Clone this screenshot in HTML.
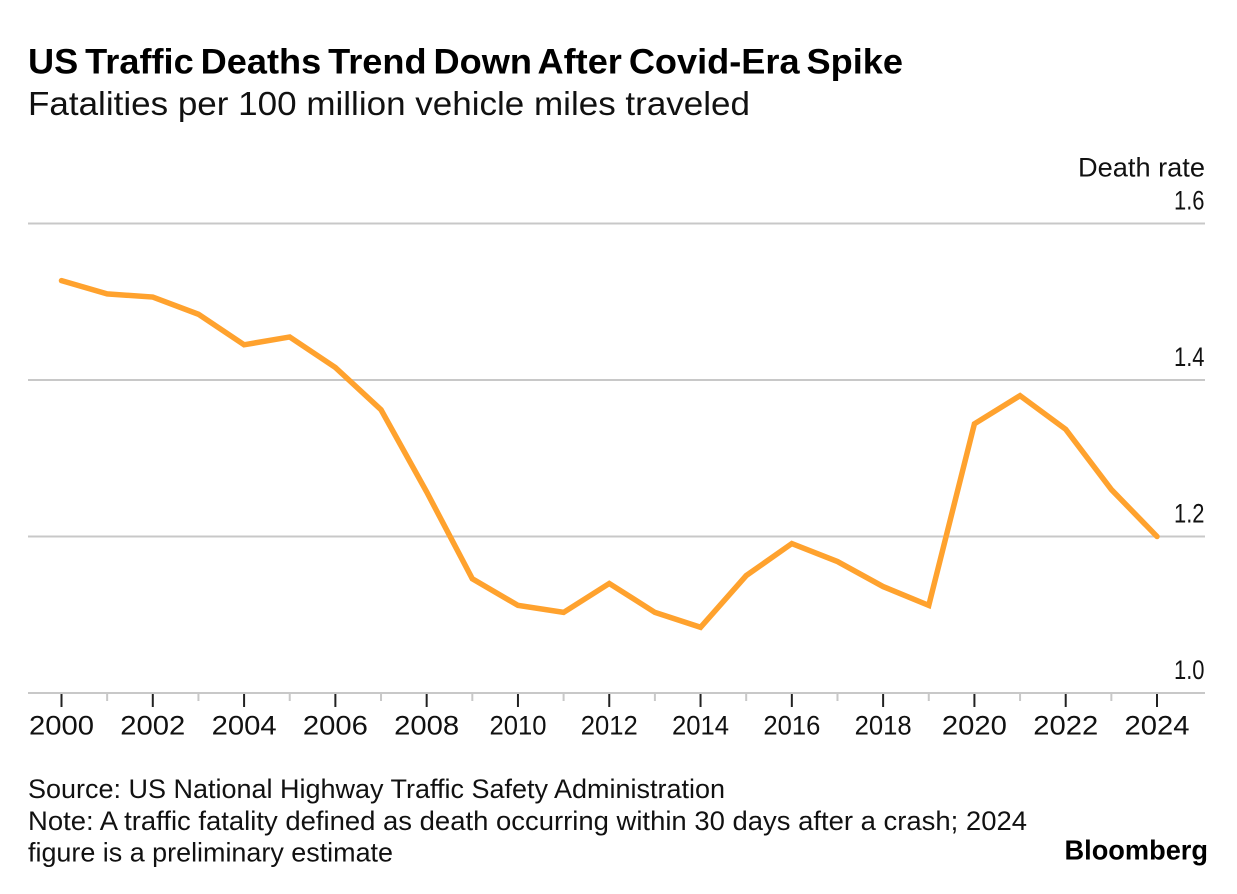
<!DOCTYPE html>
<html>
<head>
<meta charset="utf-8">
<style>
html,body{margin:0;padding:0;background:#fff;}
#chart{position:relative;width:1237px;height:894px;overflow:hidden;}
svg{position:absolute;left:0;top:0;}
svg text{font-family:"Liberation Sans",sans-serif;fill:#111;}
</style>
</head>
<body>
<div id="chart">
<svg id="plot" width="1237" height="894">
<text x="28" y="73.5" font-size="35" font-weight="700" word-spacing="-3" textLength="875" lengthAdjust="spacingAndGlyphs" style="fill:#000">US Traffic Deaths Trend Down After Covid-Era Spike</text>
<text x="28" y="115" font-size="33" textLength="722" lengthAdjust="spacingAndGlyphs">Fatalities per 100 million vehicle miles traveled</text>
<text x="1078" y="176.7" font-size="26.5" textLength="127" lengthAdjust="spacingAndGlyphs">Death rate</text>
<text x="28" y="798" font-size="27" textLength="697" lengthAdjust="spacingAndGlyphs">Source: US National Highway Traffic Safety Administration</text>
<text x="28" y="830" font-size="27" textLength="999" lengthAdjust="spacingAndGlyphs">Note: A traffic fatality defined as death occurring within 30 days after a crash; 2024</text>
<text x="28" y="861.7" font-size="27" textLength="365" lengthAdjust="spacingAndGlyphs">figure is a preliminary estimate</text>
<text x="1064.5" y="859.5" font-size="27.5" font-weight="700" textLength="143.5" lengthAdjust="spacingAndGlyphs" style="fill:#000">Bloomberg</text>
</svg>
</div>
<script>
const years = [2000,2001,2002,2003,2004,2005,2006,2007,2008,2009,2010,2011,2012,2013,2014,2015,2016,2017,2018,2019,2020,2021,2022,2023,2024];
const deathRate = [1.527,1.510,1.506,1.484,1.445,1.455,1.416,1.362,1.257,1.146,1.112,1.103,1.140,1.103,1.084,1.150,1.191,1.168,1.136,1.112,1.344,1.380,1.337,1.260,1.200];
const yTicks = [1.0,1.2,1.4,1.6];

const svg = document.getElementById('plot');
const NS = 'http://www.w3.org/2000/svg';
const xScale = v => 61.5 + (v - 2000) * (1157 - 61.5) / 24;
const yScale = v => 693 - (v - 1.0) * (693 - 223.5) / 0.6;

yTicks.forEach(t => {
  const line = document.createElementNS(NS, 'line');
  
  
  line.setAttribute('x1', 28);
  line.setAttribute('x2', 1205);
  line.setAttribute('y1', yScale(t));
  line.setAttribute('y2', yScale(t));
  line.setAttribute('stroke', '#c8c8c8');
  line.setAttribute('stroke-width', 2);
  svg.appendChild(line);
  const label = document.createElementNS(NS, 'text');
  
  
  label.setAttribute('x', 1204.5);
  label.setAttribute('y', yScale(t) - 14);
  label.setAttribute('text-anchor', 'end');
  label.setAttribute('font-size', 27);
  label.setAttribute('textLength', 30.5);
  label.setAttribute('lengthAdjust', 'spacingAndGlyphs');
  label.textContent = t.toFixed(1);
  svg.appendChild(label);
});

years.forEach(yr => {
  const major = yr % 2 === 0;
  const tick = document.createElementNS(NS, 'line');
  
  
  tick.setAttribute('x1', xScale(yr));
  tick.setAttribute('x2', xScale(yr));
  tick.setAttribute('y1', 694);
  tick.setAttribute('y2', major ? 707 : 701);
  tick.setAttribute('stroke', major ? '#222' : '#c8c8c8');
  tick.setAttribute('stroke-width', 2);
  svg.appendChild(tick);
  if (major) {
    const label = document.createElementNS(NS, 'text');
    
    
    label.setAttribute('x', xScale(yr));
    label.setAttribute('y', 734.5);
    label.setAttribute('text-anchor', 'middle');
    label.setAttribute('font-size', 27);
    label.setAttribute('textLength', String(yr).includes('1') ? 57 : 65);
    label.setAttribute('lengthAdjust', 'spacingAndGlyphs');
    label.textContent = yr;
    svg.appendChild(label);
  }
});

const path = document.createElementNS(NS, 'polyline');


path.setAttribute('points', years.map((y, i) => xScale(y) + ',' + yScale(deathRate[i])).join(' '));
path.setAttribute('fill', 'none');
path.setAttribute('stroke', '#ffa22e');
path.setAttribute('stroke-width', 5.5);
path.setAttribute('stroke-linejoin', 'miter');
path.setAttribute('stroke-linecap', 'round');
svg.appendChild(path);
</script>
</body>
</html>
